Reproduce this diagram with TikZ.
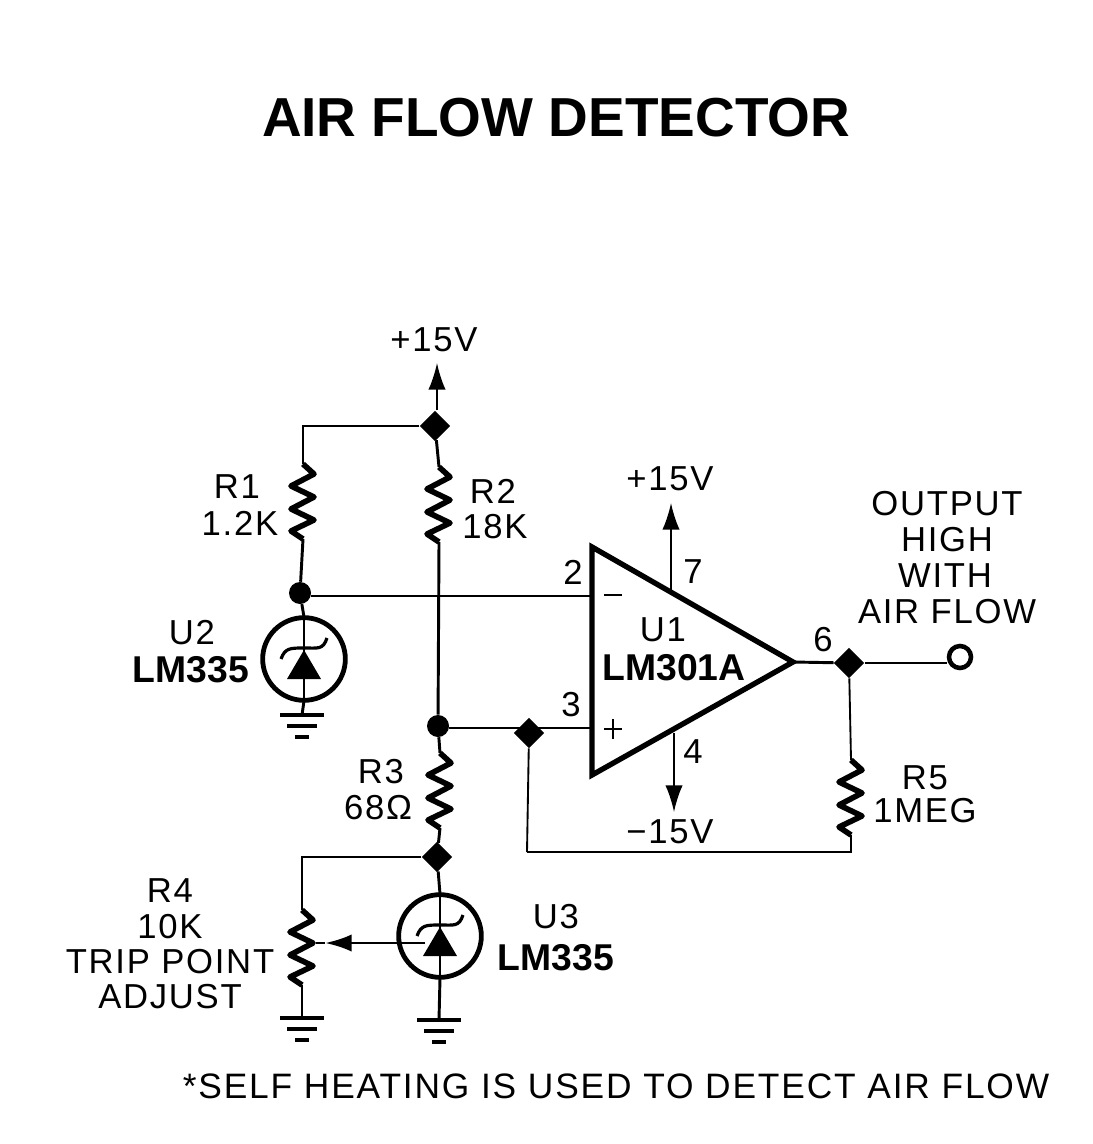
\documentclass[tikz,border=0pt]{standalone}
\usepackage{fontspec}
\setmainfont{Liberation Sans}
\usetikzlibrary{arrows.meta,shapes.geometric}
\tikzset{
  wire/.style={line width=2.2pt,black},
  fine wire/.style={line width=1.4pt,black},
  dot/.style={circle,fill=black,inner sep=0pt,minimum size=16.5pt},
  ddot/.style={diamond,aspect=1,fill=black,inner sep=0pt,minimum size=23pt},
  lab/.style={font=\fontsize{26}{26}\selectfont\addfontfeatures{LetterSpace=5},inner sep=0pt,align=center},
  foot/.style={font=\fontsize{26.5}{26}\selectfont\addfontfeatures{LetterSpace=5.2},inner sep=0pt},
  blab/.style={font=\fontsize{28}{28}\selectfont\bfseries,inner sep=0pt},
  tube/.style={circle,draw=black,line width=3.6pt,minimum size=62pt,inner sep=0pt},
  arr/.style={fine wire,-{Latex[length=20pt,width=13pt]}},
  resv/.pic={
    \coordinate (-a) at (0,0);
    \coordinate (-b) at (0,75);
    \draw[line width=4.2pt,line join=round] (0,0) -- (11,10) -- (-12,22) -- (11,33) -- (-12,45) -- (11,56) -- (-12,67) -- (0,75);
  },
  zenerpic/.pic={
    \coordinate (-t) at (0,-42);
    \coordinate (-b) at (0,42);
    \draw[wire] (0,-42) -- (0,42);
    \fill (0,-9) -- (17,20) -- (-17,20) -- cycle;
    \draw[line width=2.4pt] (-23,0) .. controls (-19,-11) and (-14,-11) .. (0,-11) .. controls (14,-11) and (19,-9) .. (23,-21);
  },
  groundpic/.pic={
    \coordinate (-t) at (0,0);
    \draw[line width=3.4pt] (-22,0) -- (22,0) (-15,11) -- (15,11) (-7,22) -- (7,22);
  },
}
\begin{document}
\begin{tikzpicture}[x=0.75pt,y=-0.75pt]
\useasboundingbox (0,0) rectangle (1092,1144);

\node[inner sep=0pt,font=\fontsize{41.2}{41}\selectfont\bfseries] (title) at (556,118) {AIR FLOW DETECTOR};

% junctions
\node[ddot] (jtop) at (435,426) {};
\node[dot] (jr1) at (300,593) {};
\node[dot] (jr2) at (438,726) {};
\node[ddot] (jfb) at (529,733) {};
\node[ddot] (jr3) at (437,857) {};
\node[ddot] (jout) at (849,663) {};
\node[circle,draw=black,line width=3.4pt,minimum size=16.5pt,inner sep=0pt] (outp) at (960,657) {};
\coordinate (vtop) at (437,363);
\coordinate (c1) at (303,426);
\coordinate (c2) at (302,857);
\coordinate (c3) at (851,852);
\coordinate (c4) at (527,852);
\coordinate (ampA) at (592,547);
\coordinate (ampB) at (592,775);
\coordinate (ampC) at (793,662);
\coordinate (in2) at (592,596);
\coordinate (in3) at (592,728);
\coordinate (v7a) at (671,592);
\coordinate (v7b) at (671,503);
\coordinate (v4a) at (674,733);
\coordinate (v4b) at (674,812);
\coordinate (wipS) at (425,943);
\coordinate (wipT) at (325,943);
\coordinate (wipE) at (316,943);

% resistors
\pic (r1) at (303,464) {resv};
\pic (r2) at (439,467) {resv};
\pic (r3) at (440,753) {resv};
\pic (r4) at (302,910) {resv};
\pic (r5) at (851,760) {resv};

% zeners
\node[tube] (u2) at (304,659) {};
\pic (z2) at (304,659) {zenerpic};
\node[tube] (u3) at (440,936) {};
\pic (z3) at (440,936) {zenerpic};

% grounds
\pic (g2) at (302,715) {groundpic};
\pic (g3) at (439,1020) {groundpic};
\pic (g4) at (302,1018) {groundpic};

% wires
\draw[arr] (jtop.north) ++(2,0) -- (vtop);
\draw[wire] (jtop) -- (c1) -- (r1-a);
\draw[wire] (r1-b) -- (jr1);
\draw[wire] (jtop) -- (r2-a);
\draw[wire] (r2-b) -- (jr2);
\draw[wire] (jr1.east |- in2) -- (in2);
\draw[wire] (jr2) -- (r3-a);
\draw[wire] (r3-b) -- (jr3);
\draw[wire] (jr2.east |- in3) -- (in3);
\draw[wire] (jr1) -- (z2-t);
\draw[wire] (z2-b) -- (g2-t);
\draw[wire] (jr3) -- (z3-t);
\draw[wire] (z3-b) -- (g3-t);
\draw[wire] (jr3) -- (c2) -- (r4-a);
\draw[wire] (r4-b) -- (g4-t);
\draw[fine wire] (jout) -- (r5-a);
\draw[wire] (r5-b) -- (c3) -- (c4);
\draw[fine wire] (c4) -- (jfb);
\draw[wire] (ampC) -- (jout);
\draw[wire] (jout) -- (outp.west |- jout);
\draw[wire,-{Latex[length=20pt,width=13pt]}] (wipS) -- (wipT);
\draw[wire] (wipT) -- (wipE);
\draw[arr] (v7a) -- (v7b);
\draw[arr] (v4a) -- (v4b);

% op amp
\draw[line width=4pt,line join=miter] (ampA) -- (ampC) -- (ampB) -- cycle;
\draw[line width=2.2pt] (604,595) -- (622,595);
\draw[line width=1.8pt] (604,729) -- (622,729) (613,719) -- (613,739);

% labels
\node[lab] (t1) at (434,340) {+15V};
\node[lab] (t2) at (670,479) {+15V};
\node[lab] (t3) at (237,487) {R1};
\node[lab] (t4) at (240,523) {1.2K};
\node[lab] (t5) at (493,491) {R2};
\node[lab] (t6) at (495,527) {18K};
\node[lab] (t7) at (573,572) {2};
\node[lab] (t8) at (571,705) {3};
\node[lab] (t9) at (693,572) {7};
\node[lab] (t10) at (693,752) {4};
\node[lab] (t11) at (823,640) {6};
\node[lab] (t12) at (663,630) {U1};
\node[blab] (t13) at (674,668) {LM301A};
\node[lab] (t14) at (670,832) {−15V};
\node[lab] (t15) at (947,504) {OUTPUT};
\node[lab] (t16) at (947,540) {HIGH};
\node[lab] (t17) at (945,576) {WITH};
\node[lab] (t18) at (947,612) {AIR FLOW};
\node[lab] (t19) at (925,778) {R5};
\node[lab] (t20) at (925,811) {1MEG};
\node[lab] (t21) at (381,772) {R3};
\node[lab] (t22) at (378,808) {68Ω};
\node[lab] (t23) at (170,891) {R4};
\node[lab] (t24) at (170,927) {10K};
\node[lab] (t25) at (170,962) {TRIP POINT};
\node[lab] (t26) at (170,997) {ADJUST};
\node[lab] (t27) at (192,633) {U2};
\node[blab] (t28) at (191,670) {LM335};
\node[lab] (t29) at (556,917) {U3};
\node[blab] (t30) at (556,958) {LM335};
\node[foot] (t31) at (616,1086) {*SELF HEATING IS USED TO DETECT AIR FLOW};
\end{tikzpicture}
\end{document}
